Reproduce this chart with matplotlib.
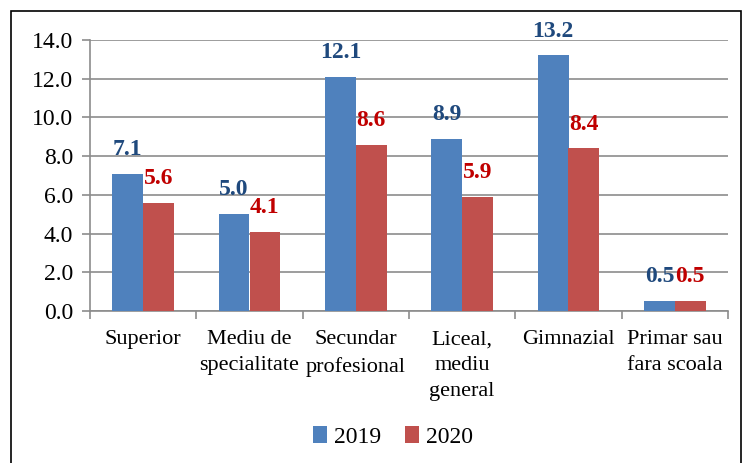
import matplotlib
matplotlib.use("Agg")
import matplotlib.pyplot as plt
import numpy as np
from matplotlib.patches import Rectangle

categories = ["Superior", "Mediu de\nspecialitate", "Secundar\nprofesional",
              "Liceal,\nmediu\ngeneral", "Gimnazial", "Primar sau\nfara scoala"]
v2019 = [7.1, 5.0, 12.1, 8.9, 13.2, 0.5]
v2020 = [5.6, 4.1, 8.6, 5.9, 8.4, 0.5]
series_names = ["2019", "2020"]
yticks = [0, 2, 4, 6, 8, 10, 12, 14]

plt.rcParams['font.family'] = ['Liberation Serif', 'DejaVu Serif']

fig = plt.figure(figsize=(7.44, 4.63), dpi=100)
ax = fig.add_axes([90/744, 1-311/463, 638/744, 271/463])

x = np.arange(len(categories))
w = 0.29
c19, c20 = '#4F81BD', '#C0504D'
b1 = ax.bar(x - w/2, v2019, w, color=c19, label=series_names[0], zorder=3)
b2 = ax.bar(x + w/2, v2020, w, color=c20, label=series_names[1], zorder=3)

for xi, v in zip(x, v2019):
    ax.annotate(f"{v:.1f}", (xi - w/2, v), xytext=(0, 10), textcoords='offset points',
                ha='center', va='bottom', fontsize=17, fontweight='bold', color='#1F497D', zorder=4)
for xi, v in zip(x, v2020):
    ax.annotate(f"{v:.1f}", (xi + w/2, v), xytext=(0, 10), textcoords='offset points',
                ha='center', va='bottom', fontsize=17, fontweight='bold', color='#C00000', zorder=4)

ax.set_ylim(0, 14)
ax.set_xlim(-0.5, len(categories) - 0.5)
ax.set_yticks(yticks)
ax.set_yticklabels([f"{t:.1f}" for t in yticks], fontsize=17)
ax.yaxis.grid(True, color='#8C8C8C', linewidth=1.2, zorder=0)
ax.set_axisbelow(True)

ax.set_xticks(np.arange(-0.5, len(categories)), minor=False)
ax.set_xticklabels([])
ax.set_xticks(x, minor=True)
ax.set_xticklabels(categories, minor=True, fontsize=16, linespacing=1.5)
ax.tick_params(axis='x', which='minor', length=0, pad=14)
ax.tick_params(axis='x', which='major', length=6, color='#8C8C8C', width=1.2)
ax.tick_params(axis='y', length=6, color='#8C8C8C', width=1.2, pad=6)

for s in ['top', 'right']:
    ax.spines[s].set_visible(False)
for s in ['left', 'bottom']:
    ax.spines[s].set_color('#8C8C8C')
    ax.spines[s].set_linewidth(1.2)

fig.legend(handles=[b1, b2], labels=series_names, loc='center',
           bbox_to_anchor=(393/744, 1-437/463), ncol=2, frameon=False,
           fontsize=17, handlelength=0.6, handleheight=0.7, handletextpad=0.3,
           columnspacing=1.0)

fig.patches.append(Rectangle((11/744, -0.01), 730/744, 1.01 - 11/463,
                             transform=fig.transFigure, fill=False,
                             edgecolor='black', linewidth=1.2))

fig.savefig("out.png", dpi=100)
